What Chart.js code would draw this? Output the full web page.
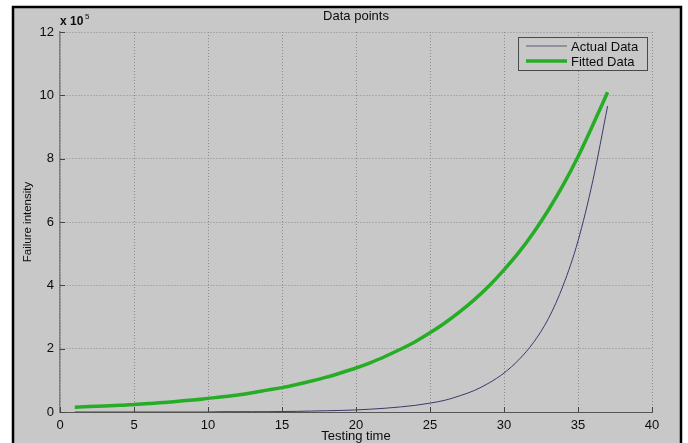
<html>
<head>
  <title>Data points</title>
</head>
<body style="margin:0;background:#fff">
  <div>
  <canvas id="myChart" width="688" height="443"></canvas>
</div>

<script src="https://cdn.jsdelivr.net/npm/chart.js"></script>

<script>
  // testing time and failure intensity (values in units of 10^5)
  const testingTime = [1,2,3,4,5,6,7,8,9,10,11,12,13,14,15,16,17,18,19,20,21,22,23,24,25,26,27,28,29,30,31,32,33,34,35,36,37]
  const actualData = [0,0,0,0,0,0,0,0,0,0,0.01,0.01,0.01,0.01,0.015,0.02,0.03,0.04,0.05,0.065,0.09,0.12,0.16,0.21,0.28,0.37,0.51,0.68,0.92,1.23,1.65,2.2,2.95,4.0,5.4,7.3,9.66]
  const fittedData = [0.15,0.17,0.19,0.21,0.24,0.27,0.30,0.34,0.38,0.43,0.48,0.54,0.61,0.69,0.77,0.87,0.98,1.10,1.24,1.39,1.56,1.76,1.98,2.22,2.50,2.81,3.16,3.55,3.99,4.49,5.04,5.67,6.38,7.17,8.06,9.06,10.1]
  const xTicks = [0,5,10,15,20,25,30,35,40]
  const yTicks = [0,2,4,6,8,10,12]
  const seriesNames = ['Actual Data', 'Fitted Data']
  const seriesColors = ['#3a3a6c', '#26ad26']

  const FONT = "'Liberation Sans', Arial, sans-serif"
  const BG = '#c8c8c8'
  const INK = '#0c0c0c'

  // matlab-ish figure: gray box with black frame, title, exponent, legend, inner ticks
  const figurePlugin = {
    id: 'figure',
    beforeDraw(chart) {
      const c = chart.ctx
      c.save()
      c.fillStyle = '#fff'
      c.fillRect(0, 0, chart.width, chart.height)
      c.fillStyle = BG
      c.fillRect(13, 7, 668, 440)
      c.strokeStyle = '#000'
      c.lineWidth = 2.5
      c.strokeRect(13, 7, 668, 445)
      c.restore()
    },
    afterDraw(chart) {
      const c = chart.ctx
      const a = chart.chartArea
      const xs = chart.scales.x, ys = chart.scales.y
      c.save()
      // inner tick marks
      c.strokeStyle = '#444'
      c.lineWidth = 1
      yTicks.forEach(v => {
        const y = Math.round(ys.getPixelForValue(v)) + 0.5
        c.beginPath(); c.moveTo(a.left, y); c.lineTo(a.left + 5, y); c.stroke()
      })
      xTicks.forEach(v => {
        const x = Math.round(xs.getPixelForValue(v)) + 0.5
        c.beginPath(); c.moveTo(x, a.bottom); c.lineTo(x, a.bottom - 5); c.stroke()
      })
      // title
      c.fillStyle = INK
      c.font = '13px ' + FONT
      c.textAlign = 'center'
      c.textBaseline = 'middle'
      c.fillText('Data points', (a.left + a.right) / 2, 16)
      // exponent
      c.textAlign = 'left'
      c.font = 'bold 12px ' + FONT
      c.fillText('x 10', a.left, 22)
      c.font = '8px ' + FONT
      c.fillText('5', a.left + 25, 17)
      // legend
      const lx = 518, ly = 37, lw = 129, lh = 33
      c.fillStyle = BG
      c.fillRect(lx, ly, lw, lh)
      c.strokeStyle = '#4a4a4a'
      c.lineWidth = 1
      c.strokeRect(lx + 0.5, ly + 0.5, lw, lh)
      const rows = [ly + 9, ly + 24]
      const lineColors = ['#5a5a72', seriesColors[1]]
      const widths = [1, 3.5]
      rows.forEach((y, i) => {
        c.strokeStyle = lineColors[i]
        c.lineWidth = widths[i]
        c.beginPath(); c.moveTo(lx + 8, y); c.lineTo(lx + 49, y); c.stroke()
        c.fillStyle = INK
        c.font = '13px ' + FONT
        c.textAlign = 'left'
        c.textBaseline = 'middle'
        c.fillText(seriesNames[i], lx + 53, y + 1)
      })
      c.restore()
    }
  }

  const ctx = document.getElementById('myChart');
  new Chart(ctx, {
    type: 'line',
    data: {
      datasets: [
        {
          label: seriesNames[0],
          data: testingTime.map((t, i) => ({x: t, y: actualData[i]})),
          borderColor: seriesColors[0],
          borderWidth: 1,
          pointRadius: 0,
          cubicInterpolationMode: 'monotone',
          fill: false
        },
        {
          label: seriesNames[1],
          data: testingTime.map((t, i) => ({x: t, y: fittedData[i]})),
          borderColor: seriesColors[1],
          borderWidth: 3.5,
          pointRadius: 0,
          cubicInterpolationMode: 'monotone',
          fill: false
        }
      ]
    },
    options: {
      responsive: false,
      animation: false,
      layout: { padding: { left: 14, top: 32, right: 36, bottom: 0 } },
      plugins: {
        legend: { display: false },
        tooltip: { enabled: false }
      },
      scales: {
        x: {
          type: 'linear',
          min: 0,
          max: 40,
          afterFit: s => { s.height = 31 },
          afterBuildTicks: s => { s.ticks = xTicks.map(v => ({value: v})) },
          grid: { color: '#8c8c8c', drawTicks: false },
          border: { color: '#555', width: 1, dash: [1, 2] },
          ticks: { padding: 6, color: INK, font: { family: FONT, size: 13 }, maxRotation: 0 },
          title: {
            display: true,
            text: 'Testing time',
            color: INK,
            font: { family: FONT, size: 13 },
            padding: { top: 0, bottom: -1 }
          }
        },
        y: {
          min: 0,
          max: 12,
          afterFit: s => { s.width = 46 },
          afterBuildTicks: s => { s.ticks = yTicks.map(v => ({value: v})) },
          grid: { color: '#8c8c8c', drawTicks: false },
          border: { color: '#808080', width: 1.5, dash: [1, 2] },
          ticks: { padding: 6, color: INK, font: { family: FONT, size: 13 } },
          title: {
            display: true,
            text: 'Failure intensity',
            color: INK,
            font: { family: FONT, size: 11.5 },
            padding: { top: 7, bottom: 0 }
          }
        }
      }
    },
    plugins: [figurePlugin]
  });
</script>

</body>
</html>
